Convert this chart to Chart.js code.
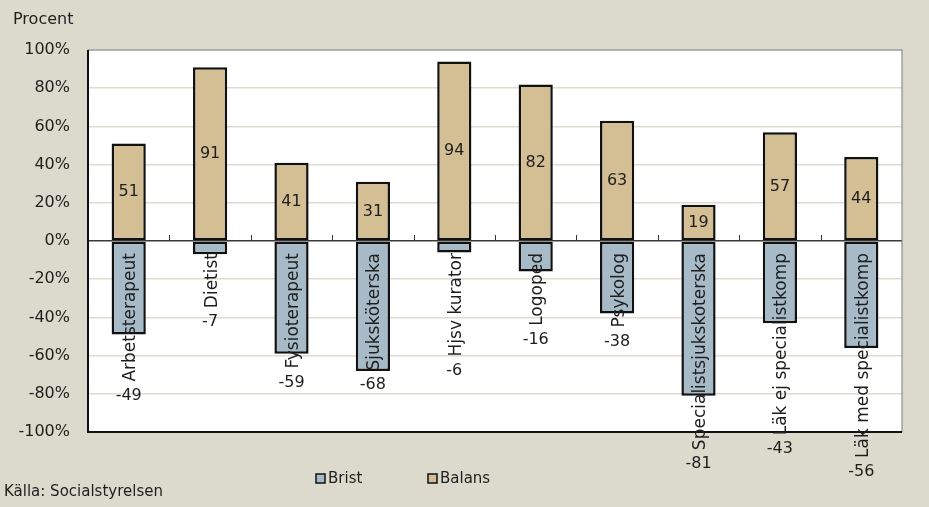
<!DOCTYPE html>
<html lang="sv">
<head>
<meta charset="utf-8">
<title>Brist och balans per yrke</title>
<script src="https://cdn.jsdelivr.net/npm/chart.js"></script>
<style>
  html, body { margin: 0; padding: 0; background: #dcd9cd; }
  #wrap { position: relative; width: 929px; height: 507px; }
</style>
</head>
<body>
<div id="wrap"><canvas id="chart"></canvas></div>
<script>
const categories = [
  "Arbetsterapeut", "Dietist", "Fysioterapeut", "Sjuksköterska", "Hjsv kurator",
  "Logoped", "Psykolog", "Specialistsjukskoterska", "Läk ej specialistkomp", "Läk med specialistkomp"
];
const brist = [-49, -7, -59, -68, -6, -16, -38, -81, -43, -56];
const balans = [51, 91, 41, 31, 94, 82, 63, 19, 57, 44];
const yTicks = [-100, -80, -60, -40, -20, 0, 20, 40, 60, 80, 100];

const FONT = '"DejaVu Sans", sans-serif';
const INK = "#1e1e1e";

// plot background, frame, zero-line ticks, value labels, rotated category names, legend and source
const decorations = {
  id: "decorations",
  beforeDraw(chart) {
    const { ctx, chartArea: a } = chart;
    ctx.save();
    ctx.fillStyle = "#ffffff";
    ctx.fillRect(a.left, a.top, a.right - a.left, a.bottom - a.top);
    ctx.restore();
  },
  beforeDatasetsDraw(chart) {
    const { ctx, chartArea: a, scales: { x, y } } = chart;
    const zero = y.getPixelForValue(0);
    ctx.save();
    ctx.strokeStyle = "#7a7a7a";
    ctx.lineWidth = 1;
    ctx.strokeRect(a.left, a.top, a.right - a.left, a.bottom - a.top);
    ctx.strokeStyle = "#111";
    ctx.lineWidth = 2;
    ctx.beginPath();
    ctx.moveTo(a.left, a.top);
    ctx.lineTo(a.left, a.bottom);
    ctx.lineTo(a.right, a.bottom);
    ctx.stroke();
    // short marks between categories on the zero line
    ctx.strokeStyle = "#333";
    ctx.lineWidth = 1;
    for (let i = 1; i < categories.length; i++) {
      const bx = Math.round((x.getPixelForValue(i - 1) + x.getPixelForValue(i)) / 2) + 0.5;
      ctx.beginPath();
      ctx.moveTo(bx, zero);
      ctx.lineTo(bx, zero - 6);
      ctx.stroke();
    }
    ctx.restore();
  },
  afterDatasetsDraw(chart) {
    const { ctx, scales: { x, y } } = chart;
    const zero = y.getPixelForValue(0);
    ctx.save();
    ctx.fillStyle = INK;
    categories.forEach((name, i) => {
      const cx = x.getPixelForValue(i);
      ctx.font = "16px " + FONT;
      ctx.textAlign = "center";
      ctx.textBaseline = "middle";
      ctx.fillText(String(balans[i]), cx, y.getPixelForValue(balans[i] / 2));

      ctx.font = "17px " + FONT;
      const w = ctx.measureText(name).width;
      ctx.save();
      ctx.translate(cx + 2, zero + 12);
      ctx.rotate(-Math.PI / 2);
      ctx.textAlign = "right";
      ctx.fillText(name, 0, 0);
      ctx.restore();

      ctx.font = "16px " + FONT;
      ctx.fillText(String(brist[i]), cx, zero + 12 + w + 14);
    });
    ctx.restore();
  },
  afterDraw(chart) {
    const { ctx } = chart;
    ctx.save();
    ctx.fillStyle = INK;
    ctx.textBaseline = "middle";
    ctx.textAlign = "left";
    ctx.font = "16px " + FONT;
    ctx.fillText("Procent", 13, 20);
    ctx.font = "15px " + FONT;
    ctx.fillText("Källa: Socialstyrelsen", 4, 492);

    const legendX = [316, 428];
    chart.data.datasets.forEach((ds, i) => {
      const lx = legendX[i];
      ctx.fillStyle = ds.backgroundColor;
      ctx.fillRect(lx, 474, 9, 9);
      ctx.strokeStyle = "#111";
      ctx.lineWidth = 1.5;
      ctx.strokeRect(lx, 474, 9, 9);
      ctx.fillStyle = INK;
      ctx.font = "15px " + FONT;
      ctx.fillText(ds.label, lx + 12, 479);
    });
    ctx.restore();
  }
};

new Chart(document.getElementById("chart"), {
  type: "bar",
  data: {
    labels: categories,
    datasets: [
      { label: "Brist", data: brist, backgroundColor: "#a6bbc7" },
      { label: "Balans", data: balans, backgroundColor: "#d4bf95" }
    ]
  },
  options: {
    responsive: true,
    maintainAspectRatio: false,
    animation: false,
    layout: { padding: { top: 50, bottom: 75, right: 27, left: 0 } },
    datasets: {
      bar: {
        borderColor: "#111",
        borderWidth: 2.5,
        borderSkipped: false,
        categoryPercentage: 1,
        barPercentage: 0.42
      }
    },
    plugins: {
      legend: { display: false },
      tooltip: { enabled: false }
    },
    scales: {
      x: { stacked: true, display: false },
      y: {
        stacked: true,
        min: -100,
        max: 100,
        afterBuildTicks(scale) {
          scale.ticks = yTicks.map(v => ({ value: v }));
        },
        afterFit(scale) { scale.width = 88; },
        border: { display: false },
        grid: {
          drawTicks: false,
          color: ctx => ctx.tick.value === 0 ? "#3a3a3a" : "#dedbd0",
          lineWidth: 1.5
        },
        ticks: {
          padding: 18,
          color: INK,
          font: { family: "DejaVu Sans", size: 16 },
          callback: v => v + "%"
        }
      }
    }
  },
  plugins: [decorations]
});
</script>
</body>
</html>
